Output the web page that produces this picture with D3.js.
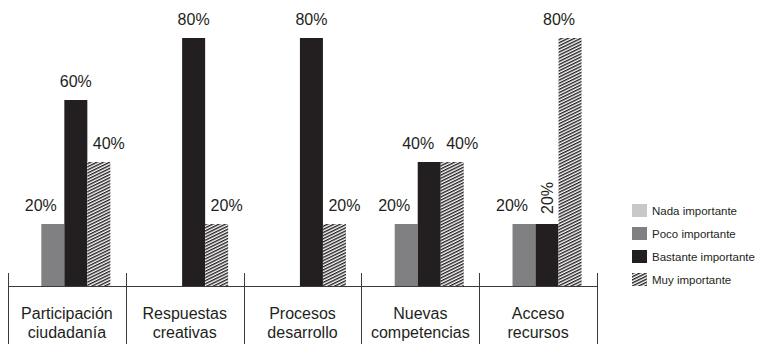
<!DOCTYPE html>
<html>
<head>
<meta charset="utf-8">
<script src="https://cdn.jsdelivr.net/npm/d3@7"></script>
<style>
  body { margin: 0; background: #fff; }
  svg { display: block; font-family: "Liberation Sans", Arial, Helvetica, sans-serif; }
</style>
</head>
<body>
<div id="chart"></div>
<script>
// data (percent)
const categories = [
  ['Participación', 'ciudadanía'],
  ['Respuestas', 'creativas'],
  ['Procesos', 'desarrollo'],
  ['Nuevas', 'competencias'],
  ['Acceso', 'recursos']
];
const seriesNames = ['Nada importante', 'Poco importante', 'Bastante importante', 'Muy importante'];
const nada     = [0, 0, 0, 0, 0];
const poco     = [20, 0, 0, 20, 20];
const bastante = [60, 80, 80, 40, 20];
const muy      = [40, 20, 20, 40, 80];
const values = [nada, poco, bastante, muy];

const colors = ['#c8c8c9', '#808083', '#231f20', 'url(#hatch)'];

const W = 761, H = 344;
const svg = d3.select('#chart').append('svg')
  .attr('width', W)
  .attr('height', H);

// hatch pattern
const pat = svg.append('defs').append('pattern')
  .attr('id', 'hatch')
  .attr('patternUnits', 'userSpaceOnUse')
  .attr('width', 6)
  .attr('height', 2.8)
  .attr('patternTransform', 'rotate(-26)');
pat.append('rect').attr('width', 6).attr('height', 2.8).attr('fill', '#fff');
pat.append('line')
  .attr('x1', 0).attr('x2', 6).attr('y1', 0.7).attr('y2', 0.7)
  .attr('stroke', '#231f20').attr('stroke-width', 1.4);

const names = categories.map(d => d.join(' '));
const x = d3.scaleBand().domain(names).range([8, 597]);
const xs = d3.scaleBand().domain(d3.range(4))
  .range([0, x.bandwidth()])
  .paddingOuter(0.56)
  .align(0.4);
const y = d3.scaleLinear().domain([0, 80]).range([286, 38]);

const rows = [];
names.forEach((c, i) => {
  values.forEach((s, j) => rows.push({ cat: c, ci: i, s: j, v: s[i] }));
});

// bars
svg.append('g').selectAll('rect')
  .data(rows.filter(d => d.v > 0))
  .enter().append('rect')
  .attr('x', d => x(d.cat) + xs(d.s))
  .attr('y', d => y(d.v))
  .attr('width', xs.bandwidth())
  .attr('height', d => y(0) - y(d.v))
  .attr('fill', d => colors[d.s]);

// axis line and dividers
const ax = svg.append('g').attr('stroke', '#3a3a3a').attr('stroke-width', 1);
ax.append('line').attr('x1', 8).attr('x2', 597).attr('y1', 286.5).attr('y2', 286.5);
const edges = names.map(c => x(c)).concat([x(names[names.length - 1]) + x.bandwidth()]);
ax.selectAll('.div')
  .data(edges)
  .enter().append('line')
  .attr('x1', d => Math.round(d) + 0.5).attr('x2', d => Math.round(d) + 0.5)
  .attr('y1', 273).attr('y2', H);

// category labels
const cl = svg.append('g')
  .attr('font-size', 16)
  .attr('fill', '#231f20')
  .attr('text-anchor', 'middle');
cl.selectAll('text')
  .data(categories)
  .enter().append('text')
  .attr('x', (d, i) => x(names[i]) + x.bandwidth() / 2)
  .attr('y', 319)
  .each(function (d) {
    d3.select(this).selectAll('tspan')
      .data(d)
      .enter().append('tspan')
      .attr('x', d3.select(this).attr('x'))
      .attr('dy', (t, k) => k === 0 ? 0 : 19)
      .text(t => t);
  });

// value labels
const lab = svg.append('g')
  .attr('font-size', 16)
  .attr('fill', '#231f20');
const shift = [0, -12, 0, 10];
rows.filter(d => d.v > 0).forEach(d => {
  const cx = x(d.cat) + xs(d.s) + xs.bandwidth() / 2;
  const top = y(d.v);
  if (d.s === 2 && poco[d.ci] === d.v) {
    // same height as the grey bar: turned label
    lab.append('text')
      .attr('transform', `translate(${cx + 6},${top - 10}) rotate(-90)`)
      .text(d.v + '%');
    return;
  }
  let dx = shift[d.s];
  if (d.s === 2 && muy[d.ci] === d.v) dx = -11;
  // tallest hatched bar: label pulled left
  if (d.s === 3 && d.v > bastante[d.ci]) dx = -11;
  lab.append('text')
    .attr('x', cx + dx)
    .attr('y', top - 13)
    .attr('text-anchor', 'middle')
    .text(d.v + '%');
});

// legend
const leg = svg.append('g').attr('transform', 'translate(632,204)');
const li = leg.selectAll('g')
  .data(seriesNames)
  .enter().append('g')
  .attr('transform', (d, i) => `translate(0,${i * 23})`);
li.append('rect')
  .attr('width', 15)
  .attr('height', 13)
  .attr('fill', (d, i) => colors[i]);
li.append('text')
  .attr('x', 20)
  .attr('y', 11)
  .attr('font-size', 11.5)
  .attr('fill', '#231f20')
  .text(d => d);
</script>
</body>
</html>
